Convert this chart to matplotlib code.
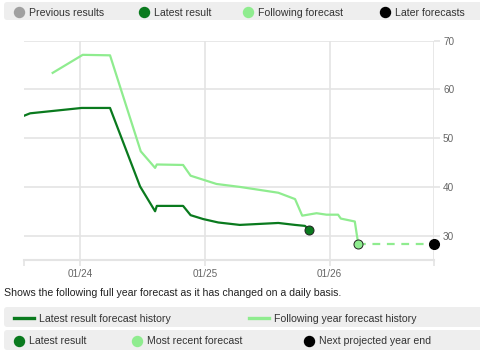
import matplotlib
matplotlib.use("Agg")
import matplotlib.pyplot as plt
from matplotlib.patches import FancyBboxPatch
import pandas as pd

plt.rcParams["font.family"] = ["Liberation Sans", "DejaVu Sans"]

# latest result forecast history
latest_dates = ["2023-07-21", "2023-08-08", "2024-01-06", "2024-03-29", "2024-06-25",
                "2024-08-08", "2024-08-13", "2024-10-29", "2024-11-20", "2024-12-27",
                "2025-02-09", "2025-04-13", "2025-08-04", "2025-09-22", "2025-10-21",
                "2025-11-02"]
latest_vals = [54.6, 55.1, 56.2, 56.2, 40.1, 35.0, 36.1, 36.1, 34.2, 33.4,
               32.7, 32.2, 32.6, 32.2, 32.0, 31.2]

# following year forecast history
follow_dates = ["2023-10-13", "2024-01-09", "2024-03-29", "2024-06-27", "2024-08-08",
                "2024-08-13", "2024-10-29", "2024-11-20", "2025-02-04", "2025-04-13",
                "2025-08-04", "2025-09-22", "2025-10-13", "2025-11-24", "2025-12-23",
                "2026-01-26", "2026-02-03", "2026-03-16", "2026-03-26"]
follow_vals = [63.4, 67.1, 67.0, 47.3, 43.9, 44.6, 44.5, 42.3, 40.6, 40.0,
               38.8, 37.5, 34.1, 34.6, 34.3, 34.3, 33.5, 32.9, 28.3]

latest_point = ("2025-11-02", 31.2)
recent_point = ("2026-03-26", 28.3)
next_point = ("2026-11-03", 28.3)

x_start, x_end = "2023-07-21", "2026-11-03"
y_ticks = [30, 40, 50, 60, 70]
x_ticks = ["2024-01-01", "2025-01-01", "2026-01-01"]

dark = "#0a7a1e"
light = "#8fec8f"
grid_c = "#e4e4e4"

fig = plt.figure(figsize=(4.8, 3.51), dpi=100)
ax = fig.add_axes([24 / 480, 91 / 351, 410 / 480, 219.3 / 351])

d = pd.to_datetime
ax.plot(d(latest_dates), latest_vals, color=dark, lw=1.6, zorder=3)
ax.plot(d(follow_dates), follow_vals, color=light, lw=1.6, zorder=3)
ax.plot(d([recent_point[0], next_point[0]]), [recent_point[1], next_point[1]],
        color=light, lw=1.6, ls=(0, (3.5, 3)), zorder=3)
ax.plot(d([latest_point[0]]), [latest_point[1]], "o", color=dark, ms=6.5,
        mec="#222222", mew=0.7, zorder=4)
ax.plot(d([recent_point[0]]), [recent_point[1]], "o", color=light, ms=6.5,
        mec="#222222", mew=0.7, zorder=4)
ax.plot(d([next_point[0]]), [next_point[1]], "o", color="black", ms=7,
        clip_on=False, zorder=4)

ax.set_xlim(d(x_start), d(x_end))
ax.set_ylim(25, 70)
ax.set_yticks(y_ticks)
ax.yaxis.tick_right()
ticks = list(d([x_start] + x_ticks + [x_end]))
ax.set_xticks(ticks)
ax.set_xticklabels([""] + [t.strftime("%m/%y") for t in d(x_ticks)] + [""])
ax.tick_params(axis="both", colors=grid_c, labelcolor="#666666", labelsize=7.2,
               length=4.5, width=1.2, pad=2)
ax.grid(True, color=grid_c, lw=1.2, zorder=0)
ax.get_xgridlines()[0].set_visible(False)
for s in ["top", "left", "right"]:
    ax.spines[s].set_visible(False)
ax.spines["bottom"].set_color(grid_c)
ax.spines["bottom"].set_linewidth(1.5)

# legend / caption overlay in pixel coordinates
ov = fig.add_axes([0, 0, 1, 1], zorder=-1)
ov.set_xlim(0, 480)
ov.set_ylim(351, 0)
ov.axis("off")

def box(y0, y1):
    ov.add_patch(FancyBboxPatch((4, y0), 480, y1 - y0,
                                boxstyle="round,pad=0,rounding_size=3",
                                fc="#eeeeee", ec="none"))

def label(x, y, t):
    ov.text(x, y, t, fontsize=7.6, color="#333333", va="center_baseline")

box(2, 20)
top_items = [(19, "#a0a0a0", "Previous results"), (144, dark, "Latest result"),
             (248, light, "Following forecast"), (385, "black", "Later forecasts")]
for x, c, t in top_items:
    ov.plot([x], [12], "o", color=c, ms=7.2)
    label(x + 10, 11.5, t)

ov.text(4, 292, "Shows the following full year forecast as it has changed on a daily basis.",
        fontsize=7.6, color="#222222", va="center_baseline")

box(307, 327)
ov.plot([14, 34], [318, 318], color=dark, lw=2.4)
label(39, 317.5, "Latest result forecast history")
ov.plot([249, 269], [318, 318], color=light, lw=2.4)
label(274, 317.5, "Following year forecast history")

box(330, 350)
bot_items = [(19, dark, "Latest result"), (137, light, "Most recent forecast"),
             (309, "black", "Next projected year end")]
for x, c, t in bot_items:
    ov.plot([x], [341], "o", color=c, ms=7.2)
    label(x + 10, 340.5, t)

fig.savefig("out.png", dpi=100)
